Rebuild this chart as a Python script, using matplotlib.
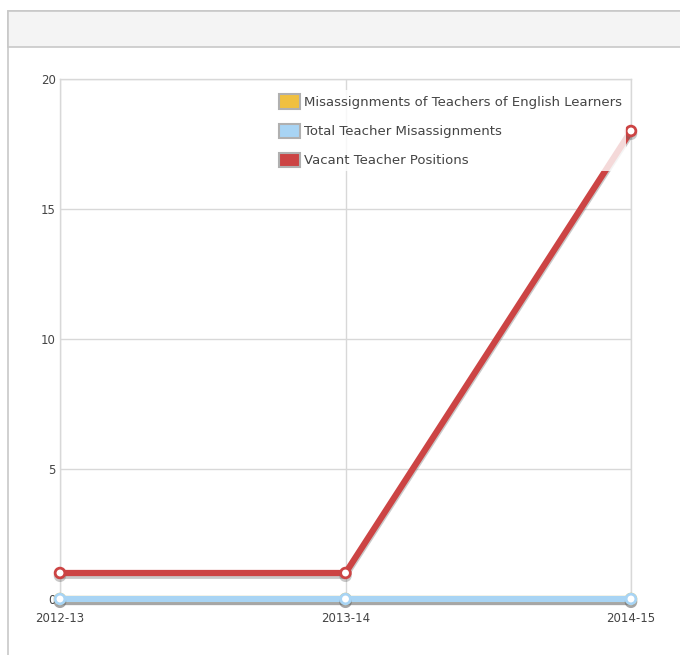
import matplotlib
matplotlib.use("Agg")
import matplotlib.pyplot as plt
import matplotlib.patheffects as pe
from matplotlib.patches import Rectangle, Patch
import numpy as np

# datos
anios = ["2012-13", "2013-14", "2014-15"]
mal_asignados_el = [0, 0, 0]
total_mal_asignados = [0, 0, 0]
vacantes = [1, 1, 18]

fig = plt.figure(figsize=(6.8, 6.55), dpi=100)
W, H = 680, 655

# tarjeta con cabecera gris (detras de los ejes)
fig.patches.append(Rectangle((8 / W, -0.1), 1.0, (H - 11) / H + 0.1, transform=fig.transFigure,
                             facecolor="white", edgecolor="#c8c8c8", linewidth=1.2, zorder=-2))
fig.patches.append(Rectangle((8 / W, (H - 47) / H), 1.0, 36 / H, transform=fig.transFigure,
                             facecolor="#f4f4f4", edgecolor="#c8c8c8", linewidth=1.2, zorder=-1))

ax = fig.add_axes([60 / W, (H - 599) / H, (631 - 60) / W, (599 - 79) / H])
ax.set_facecolor("none")
x = np.arange(len(anios))

sombra = [pe.SimpleLineShadow(offset=(0, -2), shadow_color="#666666", alpha=0.35), pe.Normal()]

ax.plot(x, mal_asignados_el, color="#f0c040", linewidth=4.5, marker="o", markersize=7,
        markerfacecolor="white", markeredgecolor="#f0c040", markeredgewidth=2,
        path_effects=sombra, clip_on=False, zorder=3)
ax.plot(x, total_mal_asignados, color="#a8d4f4", linewidth=4.5, marker="o", markersize=7,
        markerfacecolor="white", markeredgecolor="#a8d4f4", markeredgewidth=2,
        path_effects=sombra, clip_on=False, zorder=4)
ax.plot(x, vacantes, color="#cc4444", linewidth=4.5, marker="o", markersize=7,
        markerfacecolor="white", markeredgecolor="#cc4444", markeredgewidth=2,
        path_effects=sombra, clip_on=False, zorder=5)

ax.set_xlim(0, 2)
ax.set_ylim(0, 20)
ax.set_yticks([0, 5, 10, 15, 20])
ax.set_xticks(x)
ax.set_xticklabels(anios)
ax.tick_params(length=0, labelsize=8.5, colors="#444444")
ax.tick_params(axis="x", pad=9)
ax.tick_params(axis="y", pad=3)

ax.grid(True, color="#d8d8d8", linewidth=1)
ax.set_axisbelow(True)
for s in ax.spines.values():
    s.set_color("#d8d8d8")
    s.set_linewidth(1)

# leyenda
handles = [Patch(facecolor="#f0c040", edgecolor="#b0b0b0", linewidth=1.5),
           Patch(facecolor="#a8d4f4", edgecolor="#b0b0b0", linewidth=1.5),
           Patch(facecolor="#cc4444", edgecolor="#b0b0b0", linewidth=1.5)]
etiquetas = ["Misassignments of Teachers of English Learners",
             "Total Teacher Misassignments",
             "Vacant Teacher Positions"]
leg = ax.legend(handles, etiquetas, loc="upper left", bbox_to_anchor=(215 / 571, 0.978),
                frameon=True, fontsize=9.5, labelcolor="#444444", handlelength=1.6,
                handleheight=1.3, handletextpad=0.3, labelspacing=1.1, borderpad=0.3,
                borderaxespad=0)
leg.get_frame().set_facecolor("white")
leg.get_frame().set_alpha(0.8)
leg.get_frame().set_linewidth(0)
leg.set_zorder(10)

fig.savefig("out.png", dpi=100)
